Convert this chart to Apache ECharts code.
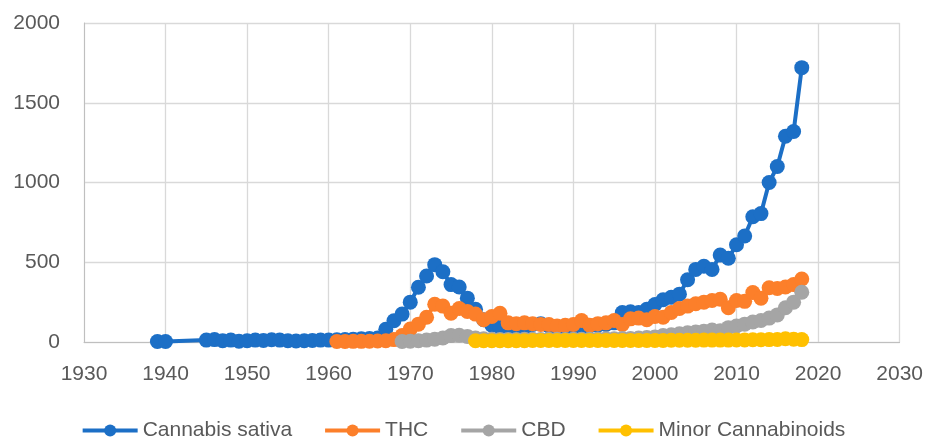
<!DOCTYPE html>
<html>
<head>
<meta charset="utf-8">
<script src="https://cdn.jsdelivr.net/npm/echarts@6/dist/echarts.min.js"></script>
<style>
html,body{margin:0;padding:0;background:#fff;}
#chart{width:926px;height:439px;}
</style>
</head>
<body>
<div id="chart"></div>
<script>
// ---- data ----
const seriesNames = ["Cannabis sativa", "THC", "CBD", "Minor Cannabinoids"];

const sativaYears = [1939, 1940,
  1945, 1946, 1947, 1948, 1949, 1950, 1951, 1952, 1953, 1954, 1955, 1956, 1957, 1958, 1959,
  1960, 1961, 1962, 1963, 1964, 1965, 1966, 1967, 1968, 1969,
  1970, 1971, 1972, 1973, 1974, 1975, 1976, 1977, 1978, 1979,
  1980, 1981, 1982, 1983, 1984, 1985, 1986, 1987, 1988, 1989,
  1990, 1991, 1992, 1993, 1994, 1995, 1996, 1997, 1998, 1999,
  2000, 2001, 2002, 2003, 2004, 2005, 2006, 2007, 2008, 2009,
  2010, 2011, 2012, 2013, 2014, 2015, 2016, 2017, 2018];
const sativaValues = [3, 3,
  12, 15, 8, 12, 5, 8, 12, 10, 14, 12, 8, 6, 8, 10, 12,
  12, 14, 16, 18, 20, 22, 25, 80, 133, 175,
  250, 343, 414, 485, 440, 360, 345, 275, 205, 140,
  105, 95, 100, 90, 85, 110, 115, 100, 90, 95,
  100, 95, 100, 105, 110, 120, 185, 190, 185, 205,
  235, 265, 280, 300, 390, 455, 475, 455, 545, 525,
  610, 665, 785, 805, 1000, 1100, 1290, 1320, 1720];

const thcYears = [1961, 1962, 1963, 1964, 1965, 1966, 1967, 1968, 1969,
  1970, 1971, 1972, 1973, 1974, 1975, 1976, 1977, 1978, 1979,
  1980, 1981, 1982, 1983, 1984, 1985, 1986, 1987, 1988, 1989,
  1990, 1991, 1992, 1993, 1994, 1995, 1996, 1997, 1998, 1999,
  2000, 2001, 2002, 2003, 2004, 2005, 2006, 2007, 2008, 2009,
  2010, 2011, 2012, 2013, 2014, 2015, 2016, 2017, 2018];
const thcValues = [3, 3, 4, 4, 5, 6, 8, 15, 40,
  81, 112, 155, 237, 225, 180, 210, 192, 175, 140,
  160, 180, 120, 115, 120, 115, 110, 110, 100, 105,
  110, 135, 105, 115, 120, 135, 110, 145, 150, 140,
  160, 155, 185, 210, 225, 240, 250, 260, 268, 215,
  260, 255, 310, 275, 340, 335, 345, 360, 395];

const cbdYears = [1969,
  1970, 1971, 1972, 1973, 1974, 1975, 1976, 1977, 1978, 1979,
  1980, 1981, 1982, 1983, 1984, 1985, 1986, 1987, 1988, 1989,
  1990, 1991, 1992, 1993, 1994, 1995, 1996, 1997, 1998, 1999,
  2000, 2001, 2002, 2003, 2004, 2005, 2006, 2007, 2008, 2009,
  2010, 2011, 2012, 2013, 2014, 2015, 2016, 2017, 2018];
const cbdValues = [3,
  5, 8, 12, 18, 25, 40, 42, 35, 25, 20,
  18, 16, 15, 16, 18, 17, 16, 18, 17, 16,
  18, 17, 18, 19, 20, 20, 22, 22, 25, 28,
  32, 40, 45, 52, 58, 62, 68, 75, 70, 90,
  100, 112, 125, 135, 150, 170, 215, 250, 312];

const minorYears = [1978, 1979,
  1980, 1981, 1982, 1983, 1984, 1985, 1986, 1987, 1988, 1989,
  1990, 1991, 1992, 1993, 1994, 1995, 1996, 1997, 1998, 1999,
  2000, 2001, 2002, 2003, 2004, 2005, 2006, 2007, 2008, 2009,
  2010, 2011, 2012, 2013, 2014, 2015, 2016, 2017, 2018];
const minorValues = [8, 8,
  8, 8, 8, 8, 8, 9, 9, 9, 9, 9,
  9, 9, 10, 10, 10, 10, 10, 10, 10, 10,
  10, 10, 11, 11, 11, 11, 12, 12, 12, 12,
  13, 13, 14, 14, 15, 16, 20, 18, 15];

const xTicks = {min: 1930, max: 2030, interval: 10};
const yTicks = {min: 0, max: 2000, interval: 500};

// ---- chart ----
function pairs(xs, ys) { return xs.map((x, i) => [x, ys[i]]); }
const colors = ["#1c6fc6", "#fc7f2a", "#a5a5a5", "#ffc000"];
const FONT = "Liberation Sans";
const TXT = "#595959";

const chart = echarts.init(document.getElementById('chart'), null, {renderer: 'canvas'});
const dataSets = [pairs(sativaYears, sativaValues), pairs(thcYears, thcValues),
                  pairs(cbdYears, cbdValues), pairs(minorYears, minorValues)];

chart.setOption({
  animation: false,
  backgroundColor: '#ffffff',
  color: colors,
  grid: {left: 84, right: 24, top: 23, bottom: 97, containLabel: false},
  legend: {
    data: seriesNames,
    left: 'center',
    top: 415,
    itemWidth: 55,
    itemHeight: 15,
    itemGap: 31,
    lineStyle: {width: 4},
    textStyle: {fontFamily: FONT, fontSize: 21, color: TXT}
  },
  xAxis: {
    type: 'value',
    min: xTicks.min, max: xTicks.max, interval: xTicks.interval,
    axisLine: {show: true, onZero: false, lineStyle: {color: '#bfbfbf', width: 1}},
    axisTick: {show: false},
    splitLine: {show: true, lineStyle: {color: '#d9d9d9', width: 1.3}},
    axisLabel: {fontFamily: FONT, fontSize: 21, color: TXT, margin: 22,
                formatter: v => String(v)}
  },
  yAxis: {
    type: 'value',
    min: yTicks.min, max: yTicks.max, interval: yTicks.interval,
    axisLine: {show: true, lineStyle: {color: '#bfbfbf', width: 1}},
    axisTick: {show: false},
    splitLine: {show: true, lineStyle: {color: '#d9d9d9', width: 1.3}},
    axisLabel: {fontFamily: FONT, fontSize: 21, color: TXT, margin: 24,
                formatter: v => String(v)}
  },
  series: seriesNames.map((name, i) => ({
    name: name,
    type: 'line',
    data: dataSets[i],
    symbol: 'circle',
    symbolSize: 15,
    showSymbol: true,
    showAllSymbol: true,
    lineStyle: {width: 4, color: colors[i]},
    itemStyle: {color: colors[i], borderWidth: 0},
    z: 2 + i
  }))
});
</script>
</body>
</html>
